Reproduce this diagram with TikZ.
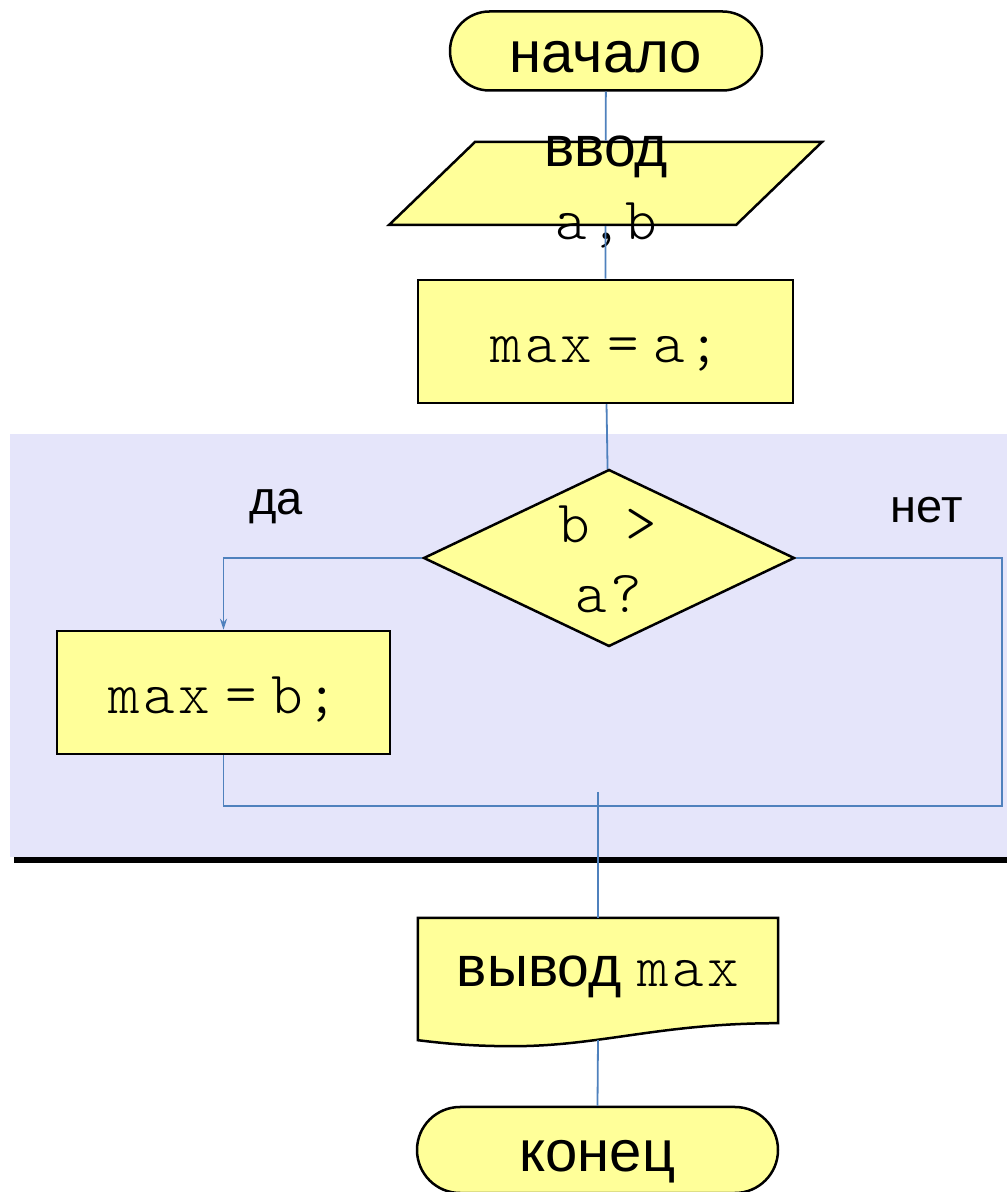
\documentclass[tikz,border=0pt]{standalone}
\usepackage{fontspec}
\setmainfont{Liberation Sans}
\newfontfamily\codefamily{lmmonolt10-regular.otf}[LetterSpace=6]
\usetikzlibrary{shapes.geometric,shapes.misc,arrows.meta,backgrounds}

\definecolor{blockfill}{RGB}{255,255,153}
\definecolor{linkblue}{RGB}{79,129,189}
\definecolor{loopbg}{RGB}{229,229,250}

\newcommand{\codefont}{\codefamily\fontsize{60}{64}\selectfont}
\newcommand{\eqgap}{\hspace{.25em}}

\begin{document}
\begin{tikzpicture}[x=1pt,y=1pt,
  blk/.style={draw=black,line width=2.5pt,fill=blockfill,inner sep=0pt},
  term/.style={blk,rounded rectangle,font=\fontsize{58}{60}\selectfont,text height=44pt,text depth=0pt},
  proc/.style={blk,rectangle,font=\codefont,text height=42pt,text depth=0pt},
  io/.style={blk,rectangle,xslant=1.036,transform shape},
  cond/.style={blk,diamond},
  link/.style={draw=linkblue,line width=1.8pt},
  lbl/.style={font=\fontsize{47}{50}\selectfont}]
\useasboundingbox (0,0) rectangle (1007,1192);

% loop area and the rule under it
\begin{scope}[on background layer]
\fill[loopbg] (10,335) rectangle (1007,758);
\fill[black] (14,329) rectangle (1007,335);
\end{scope}

\node[term,minimum width=312,minimum height=79] (start) at (606,1141) {начало};

\node[io,minimum width=347,minimum height=83] (in) at (605.5,1008.5) {};
\node[anchor=base,font=\fontsize{57}{60}\selectfont] (inhead) at (606,1025) {ввод};
\node[anchor=base,font=\codefont] (invars) at (606,952) {a,b};

\node[proc,minimum width=375,minimum height=123] (init) at (605.5,850.5) {max\eqgap=\eqgap a;};

\node[cond,minimum width=371,minimum height=177] (test) at (609,634) {};
\node[anchor=base,font=\codefont] (testa) at (608,649) {b >};
\node[anchor=base,font=\codefont] (testb) at (608.5,579) {a?};
\node[lbl] (yes) at (276,685) {да};
\node[lbl] (no) at (927,682) {нет};

\node[proc,minimum width=333,minimum height=123] (swap) at (223.5,499.5) {max\eqgap=\eqgap b;};

\coordinate (merge) at (1002,386);
\coordinate (join) at (598,400);

\node[inner sep=0pt,minimum width=360,minimum height=122,font=\fontsize{57}{60}\selectfont,
  text height=16pt,text depth=0pt] (out) at (598,213) {вывод {\codefont max}};
\begin{scope}[on background layer]
\draw[blk] (out.north west) -- (out.north east) -- ([yshift=17]out.south east)
  .. controls +(-118,0) and +(87,0) .. ([xshift=95,yshift=-6]out.south west)
  .. controls +(-43,0) and +(25,-3) .. (out.south west) -- cycle;
\end{scope}

\node[term,minimum width=361,minimum height=86] (stop) at (597.5,42) {конец};

% connectors
\draw[link] (start) -- (in);
\draw[link] (in) -- (init);
\draw[link] (init) -- (test);
\draw[link,-{Stealth[length=11pt,width=7pt]}] (test.west) -| (swap.north);
\draw[link] (swap.south) |- (merge) |- (test.east);
\draw[link] (join) -- (out.north);
\draw[link] (out.south) -- (stop.north);

\end{tikzpicture}
\end{document}
